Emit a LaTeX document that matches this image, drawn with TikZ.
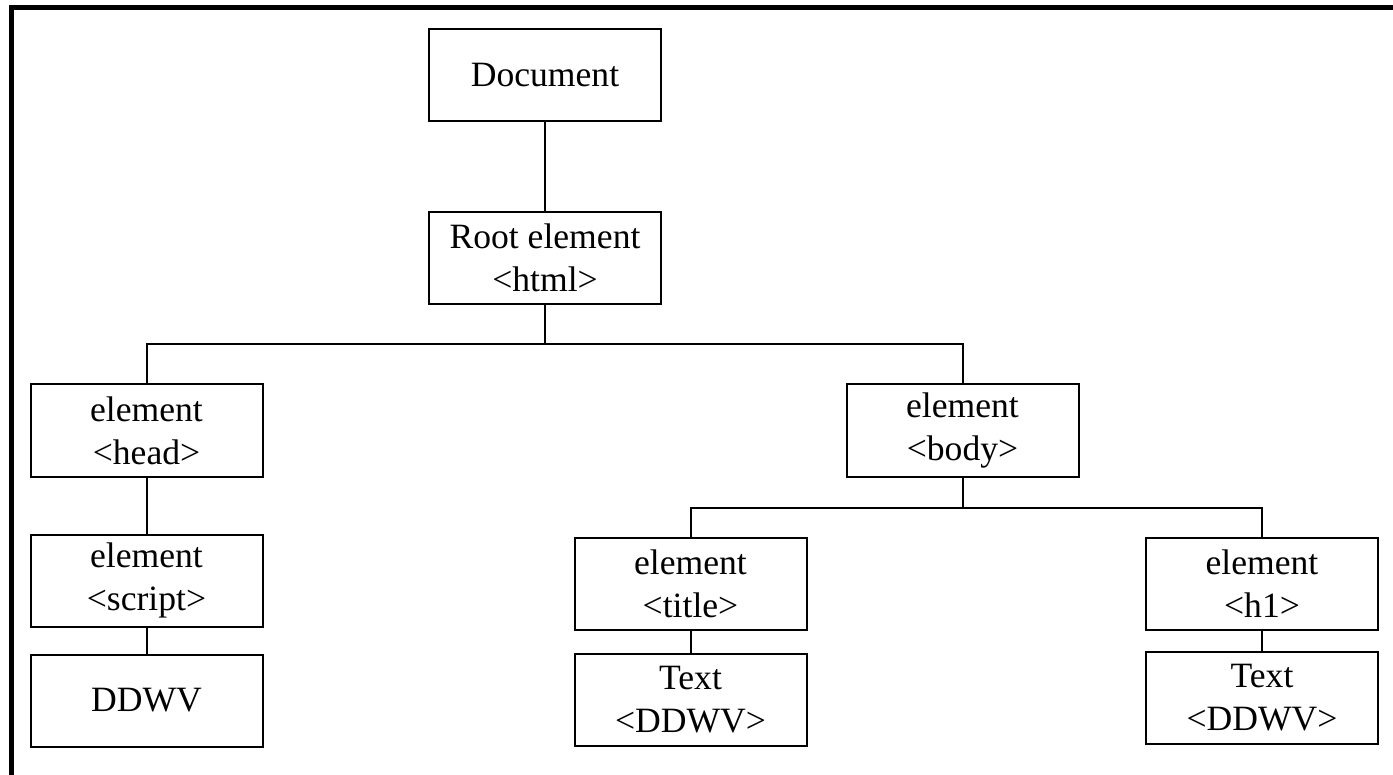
\documentclass[tikz,border=0pt]{standalone}
\usepackage{fontspec}
\setmainfont{Liberation Serif}
\begin{document}
\begin{tikzpicture}[x=0.5pt, y=-0.5pt,
  treebox/.style={draw, line width=1pt, rectangle, inner sep=0pt,
    minimum width=116pt, minimum height=46pt, align=center,
    font=\fontsize{17.8}{21.4}\selectfont},
  link/.style={line width=1pt}]
\useasboundingbox (0,0) rectangle (1393,775);

% frame along the top and left edges
\draw[line width=2.6pt, line join=miter] (11.5,775) -- (11.5,7.5) -- (1393,7.5);

% tree nodes
\node[treebox] (doc)    at (545,75.5)    {Document};
\node[treebox] (root)   at (545,258)     {Root element\\<html>};
\node[treebox] (head)   at (146.5,430.5) {element\\<head>};
\node[treebox] (body)   at (962.5,430.5) {element\\<body>};
\node[treebox] (script) at (146.5,580.5) {element\\<script>};
\node[treebox] (ddwv)   at (146.5,700.5) {DDWV};
\node[treebox] (title)  at (690.5,583.5) {element\\<title>};
\node[treebox] (ttext)  at (690.5,700)   {Text\\<DDWV>};
\node[treebox] (hone)   at (1262,583.5)  {element\\<h1>};
\node[treebox] (htext)  at (1262,697.5)  {Text\\<DDWV>};

% branching points
\coordinate (jroot) at (545,344);
\coordinate (jbody) at (962.5,507.5);

% connectors
\draw[link] (doc) -- (root);
\draw[link] (root.south) -- (jroot);
\draw[link] (head.north) |- (jroot) -| (body.north);
\draw[link] (head) -- (script);
\draw[link] (script) -- (ddwv);
\draw[link] (body.south) -- (jbody);
\draw[link] (title.north) |- (jbody) -| (hone.north);
\draw[link] (title) -- (ttext);
\draw[link] (hone) -- (htext);
\end{tikzpicture}
\end{document}
